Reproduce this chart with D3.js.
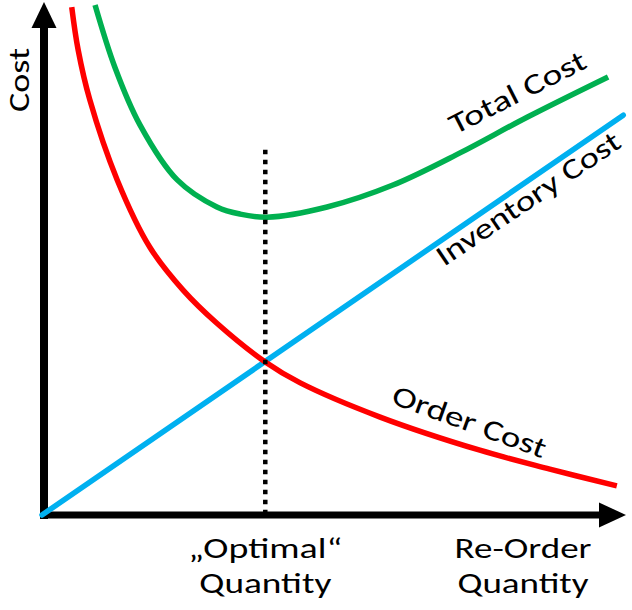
<!DOCTYPE html>
<html>
<head>
<meta charset="utf-8">
<script src="https://cdn.jsdelivr.net/npm/d3@7"></script>
<style>
  html, body { margin: 0; padding: 0; background: #fff; }
  svg { display: block; }
  text { font-family: Calibri, Carlito, Lato, "Open Sans", sans-serif; fill: #000; }
</style>
</head>
<body>
<script>
// ---- data (arbitrary units: quantity 0..100, cost 0..100) ----
const orderQty   = [5.1, 6.2, 8.2, 12.9, 18.5, 24.2, 30.0, 38.3, 44.3, 58.0, 75.1, 87.1, 98.6];
const orderCost  = [99.6, 91.2, 81.4, 65.7, 52.5, 44.1, 37.6, 30.0, 25.9, 19.2, 12.7, 9.0, 5.7];
const invQty     = [0, 99.7];
const invCost    = [0, 78.4];
const totalQty   = [9.1, 12.5, 16.8, 23.2, 30.0, 34.0, 38.6, 48.9, 60.2, 71.7, 83.2, 97.1];
const totalCost  = [100, 87.8, 76.5, 65.7, 60.4, 59.0, 58.4, 60.4, 64.7, 71.0, 78.0, 85.9];
const optimalQty = 38.3;
const optimalTop = 71.6;
const seriesNames = ["Order Cost", "Inventory Cost", "Total Cost"];
const yAxisLabel = "Cost";
const xTickLabels = [["\u201EOptimal\u201C", "Quantity"], ["Re-Order", "Quantity"]];

const W = 632, H = 610;
const svg = d3.select("body").append("svg").attr("width", W).attr("height", H);

const x = d3.scaleLinear().domain([0, 100]).range([42, 625]);
const y = d3.scaleLinear().domain([0, 100]).range([515, 5]);

// ---- axes with arrowheads ----
const ax0 = x(0) + 2, ay0 = y(0);
svg.append("line").attr("x1", ax0).attr("y1", ay0 + 4).attr("x2", ax0).attr("y2", 26)
  .attr("stroke", "#000").attr("stroke-width", 8);
svg.append("path").attr("d", `M${ax0},2 L${ax0 - 12.5},28 L${ax0 + 12.5},28 Z`).attr("fill", "#000");
svg.append("line").attr("x1", ax0 - 4).attr("y1", ay0).attr("x2", 600).attr("y2", ay0)
  .attr("stroke", "#000").attr("stroke-width", 7);
svg.append("path").attr("d", `M626,${ay0} L599,${ay0 - 12.5} L599,${ay0 + 12.5} Z`).attr("fill", "#000");

// ---- series ----
const zip = (a, b) => a.map((v, i) => [v, b[i]]);
const smooth = d3.line().x(d => x(d[0])).y(d => y(d[1])).curve(d3.curveCatmullRom.alpha(0.5));
const straight = d3.line().x(d => x(d[0])).y(d => y(d[1]));

svg.append("path").datum(zip(invQty, invCost))
  .attr("d", straight)
  .attr("fill", "none").attr("stroke", "#00B0F0").attr("stroke-width", 5.5).attr("stroke-linecap", "round");

svg.append("path").datum(zip(orderQty, orderCost))
  .attr("d", smooth)
  .attr("fill", "none").attr("stroke", "#FF0000").attr("stroke-width", 5.5);

svg.append("path").datum(zip(totalQty, totalCost))
  .attr("d", smooth)
  .attr("fill", "none").attr("stroke", "#00B050").attr("stroke-width", 5.5);

// ---- optimal dotted line ----
svg.append("line")
  .attr("x1", x(optimalQty)).attr("x2", x(optimalQty))
  .attr("y1", y(optimalTop)).attr("y2", y(0))
  .attr("stroke", "#000").attr("stroke-width", 4.5).attr("stroke-dasharray", "4.5,5.5");

// ---- labels ----
const fs = 29;
svg.append("text").attr("transform", "translate(29,80) rotate(-90)")
  .attr("text-anchor", "middle").attr("font-size", fs)
  .attr("textLength", 64).attr("lengthAdjust", "spacingAndGlyphs").text(yAxisLabel);

function tl(lines, cx, widths) {
  lines.forEach((t, i) => {
    svg.append("text").attr("x", cx).attr("y", 558 + i * 35)
      .attr("text-anchor", "middle").attr("font-size", fs)
      .attr("textLength", widths[i]).attr("lengthAdjust", "spacingAndGlyphs")
      .text(t);
  });
}
tl(xTickLabels[0], x(optimalQty), [154, 132]);
tl(xTickLabels[1], 523, [137, 131]);

svg.append("text").attr("transform", "translate(390,403) rotate(20)")
  .attr("font-size", fs).attr("textLength", 162).attr("lengthAdjust", "spacingAndGlyphs")
  .text(seriesNames[0]);
svg.append("text").attr("transform", "translate(444,267) rotate(-34)")
  .attr("font-size", fs).attr("textLength", 216).attr("lengthAdjust", "spacingAndGlyphs")
  .text(seriesNames[1]);
svg.append("text").attr("transform", "translate(455,135) rotate(-27)")
  .attr("font-size", fs).attr("textLength", 150).attr("lengthAdjust", "spacingAndGlyphs")
  .text(seriesNames[2]);
</script>
</body>
</html>
